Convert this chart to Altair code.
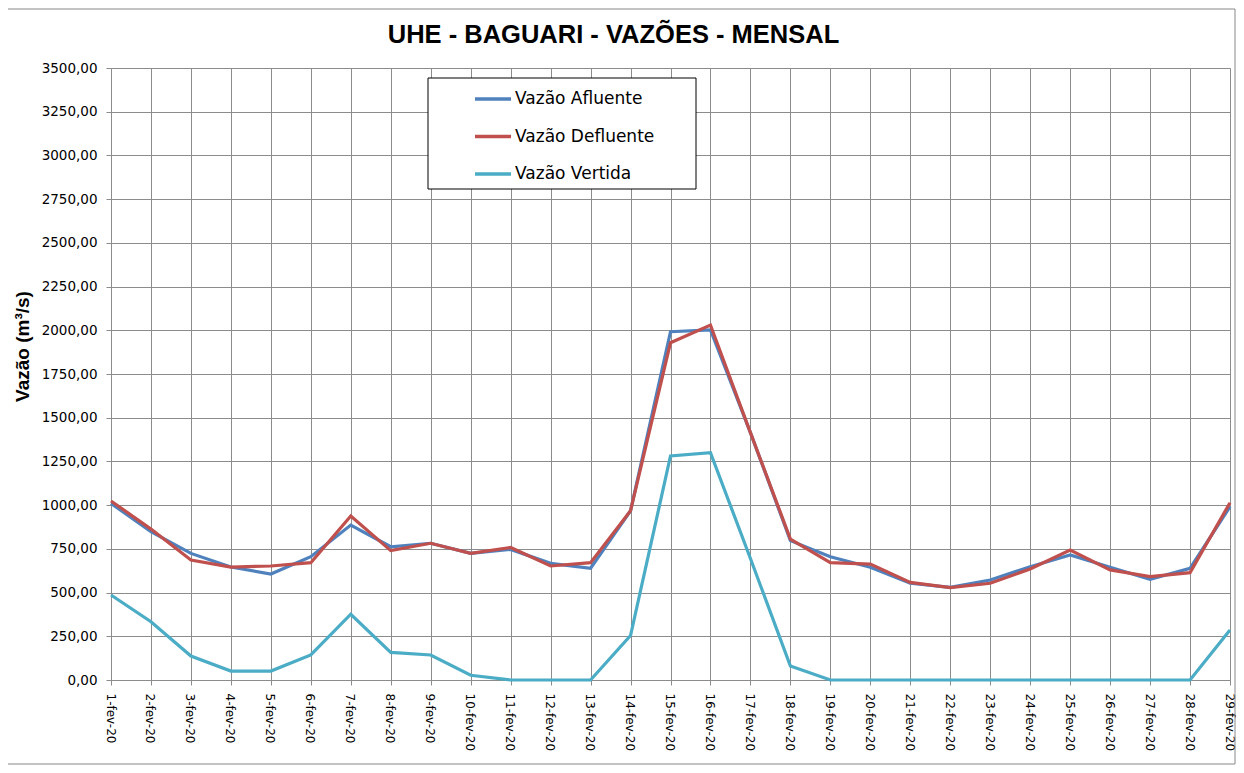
import altair as alt
import pandas as pd

days = [f"{i}-fev-20" for i in range(1, 30)]

afluente = [1010, 848, 724, 646, 606, 705, 886, 762, 782, 724, 747, 667, 639, 968,
            1992, 2002, 1415, 797, 705, 645, 553, 530, 572, 648, 715, 645, 576, 639, 991]
defluente = [1024, 863, 686, 646, 652, 671, 938, 740, 782, 724, 758, 652, 671, 968,
             1929, 2030, 1415, 806, 671, 663, 558, 528, 553, 635, 743, 630, 591, 614, 1014]
vertida = [486, 333, 137, 51, 51, 143, 376, 158, 143, 27, 0, 0, 0, 254,
           1281, 1300, 695, 80, 0, 0, 0, 0, 0, 0, 0, 0, 0, 0, 286]

series_names = ["Vazão Afluente", "Vazão Defluente", "Vazão Vertida"]
series_colors = ["#4F81BD", "#C0504D", "#4BACC6"]
y_ticks = list(range(0, 3501, 250))
title_text = "UHE - BAGUARI - VAZÕES - MENSAL"

rows = []
for name, vals in zip(series_names, [afluente, defluente, vertida]):
    for d, v in zip(days, vals):
        rows.append({"day": d, "value": v, "series": name})
df = pd.DataFrame(rows)

GRID = "#8c8c8c"
W, H = 1119, 612

lines = alt.Chart(df).mark_line(strokeWidth=3.2).encode(
    x=alt.X("day:N", sort=days, scale=alt.Scale(type="point", padding=0),
            axis=alt.Axis(title=None, labelAngle=90, labelAlign="left", labelBaseline="middle",
                          labelPadding=8, tickSize=5, grid=True, gridColor=GRID,
                          tickColor=GRID, domainColor=GRID, labelFont="DejaVu Sans",
                          labelFontSize=12, labelOffset=-1, labelColor="#000")),
    y=alt.Y("value:Q", scale=alt.Scale(domain=[0, 3500], nice=False),
            axis=alt.Axis(title="Vazão (m³/s)", values=y_ticks,
                          labelExpr="replace(format(datum.value, '.2f'), '.', ',')",
                          tickSize=5, labelPadding=9, grid=True, gridColor=GRID,
                          tickColor=GRID, domainColor=GRID, labelFont="DejaVu Sans",
                          labelFontSize=13.5, labelColor="#000",
                          titleFont="Liberation Sans", titleFontSize=19, titleFontWeight="bold",
                          titleColor="#000", titleX=-79, titleY=278)),
    color=alt.Color("series:N", scale=alt.Scale(domain=series_names, range=series_colors),
                    legend=alt.Legend(title=None, orient="none", legendX=362, legendY=11,
                                      symbolType="stroke", symbolSize=1296, symbolStrokeWidth=3.5,
                                      labelFont="DejaVu Sans", labelFontSize=17, labelColor="#000",
                                      labelOffset=2, rowPadding=9.5, padding=0)),
)

box_df = pd.DataFrame({"k": [0]})
legend_box = alt.Chart(box_df).mark_rect(fill="white", stroke="black", strokeWidth=1).encode(
    x=alt.value(317), x2=alt.value(585), y=alt.value(10), y2=alt.value(121))

frame = alt.Chart(box_df).mark_rect(fill=None, stroke="#888888", strokeWidth=1).encode(
    x=alt.value(-104), x2=alt.value(1124), y=alt.value(-59), y2=alt.value(696))

title = alt.Chart(box_df).mark_text(font="Liberation Sans", fontSize=25.5, fontWeight="bold",
                                    color="#000", align="center", baseline="alphabetic").encode(
    x=alt.value(502.5), y=alt.value(-25), text=alt.value(title_text))

chart = alt.layer(frame, legend_box, lines, title).properties(
    width=W, height=H,
    autosize=alt.AutoSizeParams(type="none"),
    padding={"left": 103, "top": 60, "right": 6, "bottom": 85},
).configure_view(stroke=GRID).configure(background="white")

chart.save("out.html", embed_options={"renderer": "svg", "actions": False})
